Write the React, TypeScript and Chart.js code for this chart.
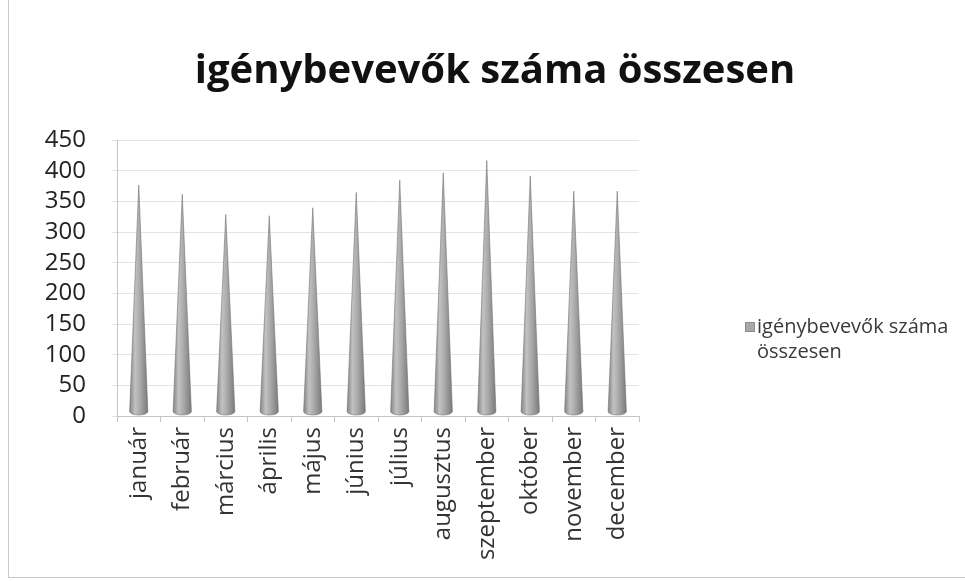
import React, { useEffect, useRef } from "react";
import { Chart, registerables } from "chart.js";

Chart.register(...registerables);

const TITLE = "igénybevevők száma összesen";
const SERIES_NAME = "igénybevevők száma összesen";
const LEGEND_LINES = ["igénybevevők száma", "összesen"];
const months = [
  "január",
  "február",
  "március",
  "április",
  "május",
  "június",
  "július",
  "augusztus",
  "szeptember",
  "október",
  "november",
  "december",
];
const values = [370, 355, 322, 320, 333, 358, 378, 390, 410, 385, 360, 360];
const yMin = 0;
const yMax = 450;
const yStep = 50;

const FONT = "'Open Sans', 'Noto Sans', sans-serif";

const conePlugin = {
  id: "cones",
  afterDatasetsDraw(chart: any) {
    const ctx = chart.ctx;
    const meta = chart.getDatasetMeta(0);
    meta.data.forEach((el: any) => {
      const { x, y, base, width } = el.getProps(["x", "y", "base", "width"], true);
      const dy = -4;
      const hw = width / 2;
      const b = base + dy;
      const t = y + dy;
      const g = ctx.createLinearGradient(x - hw, 0, x + hw, 0);
      g.addColorStop(0, "#858585");
      g.addColorStop(0.3, "#c2c2c2");
      g.addColorStop(0.55, "#ababab");
      g.addColorStop(1, "#7a7a7a");
      ctx.save();
      ctx.beginPath();
      ctx.moveTo(x, t);
      ctx.lineTo(x + hw, b);
      ctx.ellipse(x, b, hw, 3.5, 0, 0, Math.PI, false);
      ctx.lineTo(x, t);
      ctx.closePath();
      ctx.fillStyle = g;
      ctx.fill();
      ctx.strokeStyle = "rgba(110,110,110,0.7)";
      ctx.lineWidth = 0.8;
      ctx.stroke();
      ctx.restore();
    });
  },
};

const decorPlugin = {
  id: "decor",
  afterDraw(chart: any) {
    const ctx = chart.ctx;
    ctx.save();
    // title
    ctx.fillStyle = "#111";
    ctx.font = `bold 40px ${FONT}`;
    ctx.textAlign = "center";
    ctx.textBaseline = "alphabetic";
    ctx.fillText(TITLE, 486, 83);
    // legend
    const lx = 736;
    const ly = 327;
    ctx.fillStyle = "#a8a8a8";
    ctx.fillRect(lx, ly - 5, 10, 10);
    ctx.strokeStyle = "#8c8c8c";
    ctx.lineWidth = 1;
    ctx.strokeRect(lx + 0.5, ly - 4.5, 9, 9);
    ctx.fillStyle = "#3a3a3a";
    ctx.font = `20px ${FONT}`;
    ctx.textAlign = "left";
    ctx.textBaseline = "middle";
    ctx.fillText(LEGEND_LINES[0], lx + 12, ly);
    ctx.fillText(LEGEND_LINES[1], lx + 12, ly + 25);
    ctx.restore();
  },
};

export default function App() {
  const ref = useRef<HTMLCanvasElement | null>(null);

  useEffect(() => {
    if (!ref.current) return;
    const chart = new Chart(ref.current, {
      type: "bar",
      data: {
        labels: months,
        datasets: [
          {
            label: SERIES_NAME,
            data: values,
            backgroundColor: "rgba(0,0,0,0)",
            borderWidth: 0,
            barPercentage: 0.42,
            categoryPercentage: 1,
          },
        ],
      },
      options: {
        responsive: false,
        animation: false,
        devicePixelRatio: 1,
        layout: { padding: { top: 140, right: 326, bottom: 0, left: 0 } },
        plugins: {
          legend: { display: false },
          title: { display: false },
          tooltip: { enabled: false },
        },
        scales: {
          x: {
            type: "category",
            offset: true,
            grid: { drawOnChartArea: false, drawTicks: true, tickLength: 6, color: "#c4c4c4" },
            border: { color: "#c4c4c4" },
            ticks: {
              minRotation: 90,
              maxRotation: 90,
              autoSkip: false,
              padding: 5,
              color: "#333",
              font: { family: FONT, size: 24 },
            },
            afterFit: (s: any) => {
              s.height = 161;
            },
          },
          y: {
            min: yMin,
            max: yMax,
            ticks: {
              stepSize: yStep,
              autoSkip: false,
              padding: 26,
              color: "#222",
              font: { family: FONT, size: 24 },
            },
            grid: { color: "#e4e4e4", tickLength: 5, drawTicks: true },
            border: { color: "#c4c4c4" },
            afterFit: (s: any) => {
              s.width = 108;
            },
          },
        },
      },
      plugins: [conePlugin, decorPlugin],
    });
    return () => chart.destroy();
  }, []);

  return (
    <div
      style={{
        position: "fixed",
        left: 8,
        top: 0,
        width: 956,
        height: 577,
        borderLeft: "1px solid #c8c8c8",
        borderBottom: "1px solid #c8c8c8",
        background: "#fff",
      }}
    >
      <canvas ref={ref} width={956} height={577} style={{ display: "block" }} />
    </div>
  );
}
